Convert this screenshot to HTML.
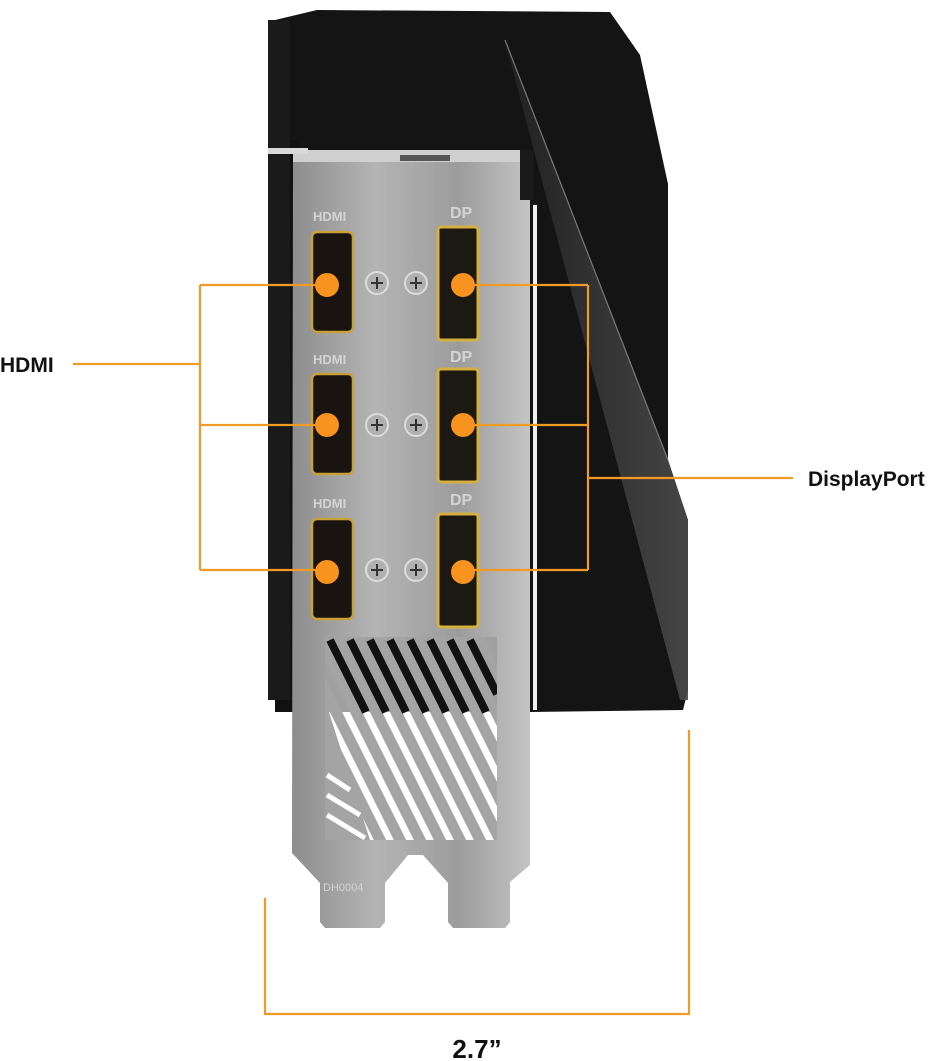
<!DOCTYPE html>
<html><head><meta charset="utf-8"><style>
html,body{margin:0;padding:0;background:#fff;width:943px;height:1061px;overflow:hidden}
svg{display:block}
text{font-family:"Liberation Sans",sans-serif}
</style></head><body>
<svg width="943" height="1061" viewBox="0 0 943 1061" xmlns="http://www.w3.org/2000/svg">
<defs>
<linearGradient id="metal" x1="0" x2="1" y1="0" y2="0">
<stop offset="0" stop-color="#8d8d8d"/><stop offset="0.35" stop-color="#b4b4b4"/><stop offset="0.7" stop-color="#9c9c9c"/><stop offset="1" stop-color="#c4c4c4"/>
</linearGradient>
<linearGradient id="band" x1="0" x2="1" y1="0" y2="0">
<stop offset="0" stop-color="#222"/><stop offset="1" stop-color="#4a4a4a"/>
</linearGradient>
<clipPath id="vent"><rect x="325" y="637" width="172" height="203"/></clipPath>
</defs>

<!-- black body -->
<polygon points="317,10 610,12 640,55 668,184 668,460 688,520 688,690 683,710 530,712 530,205 275,205 275,20" fill="#141414"/>
<polygon points="275,140 300,140 300,712 275,712" fill="#111"/>
<polygon points="268,20 290,20 290,700 268,700" fill="#1a1a1a"/>
<!-- textured band -->
<polygon points="505,40 668,460 688,520 688,700 680,700 520,98" fill="url(#band)" opacity="0.9"/>
<line x1="505" y1="40" x2="668" y2="460" stroke="#7a7a7a" stroke-width="1.2"/>
<!-- white gap line -->
<rect x="533" y="205" width="4" height="505" fill="#f0f0f0"/>

<!-- bracket -->
<polygon points="293,150 530,150 530,865 510,882 510,922 505,928 453,928 448,922 448,883 423,855 408,855 385,883 385,922 380,928 325,928 320,922 320,883 292,853" fill="url(#metal)"/>
<rect x="293" y="150" width="237" height="12" fill="#cfcfcf"/>
<rect x="268" y="148" width="40" height="6" fill="#d8d8d8"/>
<rect x="400" y="155" width="50" height="6" fill="#555"/>
<rect x="520" y="150" width="14" height="50" fill="#1a1a1a"/>

<!-- vent -->
<g clip-path="url(#vent)">
<rect x="325" y="637" width="172" height="75" fill="#a0a0a0"/>
<rect x="325" y="712" width="172" height="128" fill="#fff"/>
<g stroke="#a4a4a4" stroke-width="11">
<line x1="300" y1="600" x2="450" y2="900"/>
<line x1="320" y1="600" x2="470" y2="900"/>
<line x1="340" y1="600" x2="490" y2="900"/>
<line x1="360" y1="600" x2="510" y2="900"/>
<line x1="380" y1="600" x2="530" y2="900"/>
<line x1="400" y1="600" x2="550" y2="900"/>
<line x1="420" y1="600" x2="570" y2="900"/>
<line x1="440" y1="600" x2="590" y2="900"/>
<line x1="460" y1="600" x2="610" y2="900"/>
<line x1="280" y1="600" x2="430" y2="900"/>
<line x1="260" y1="600" x2="410" y2="900"/>
</g>
<g stroke="#111" stroke-width="8">
<line x1="330" y1="640" x2="366" y2="712"/>
<line x1="350" y1="640" x2="386" y2="712"/>
<line x1="370" y1="640" x2="406" y2="712"/>
<line x1="390" y1="640" x2="426" y2="712"/>
<line x1="410" y1="640" x2="446" y2="712"/>
<line x1="430" y1="640" x2="466" y2="712"/>
<line x1="450" y1="640" x2="486" y2="712"/>
<line x1="470" y1="640" x2="497" y2="694"/>
</g>
<polygon points="325,700 370,840 325,840" fill="#a4a4a4"/>
<g stroke="#fff" stroke-width="5">
<line x1="327" y1="775" x2="350" y2="790"/>
<line x1="327" y1="795" x2="360" y2="815"/>
<line x1="327" y1="815" x2="365" y2="838"/>
</g>
</g>
<text x="323" y="891" font-size="11" fill="#d2d2d2">DH0004</text>

<!-- labels on bracket -->
<g font-size="13" font-weight="bold" fill="#d4d4d4">
<text x="313" y="221">HDMI</text><text x="313" y="364">HDMI</text><text x="313" y="508">HDMI</text>
<text x="450" y="218" font-size="16">DP</text><text x="450" y="362" font-size="16">DP</text><text x="450" y="505" font-size="16">DP</text>
</g>

<!-- ports -->
<g>
<g id="row">
<rect x="312" y="232" width="41" height="100" rx="5" fill="#1a1410" stroke="#c9a13a" stroke-width="2.5"/>
<rect x="438" y="227" width="40" height="113" rx="3" fill="#1c1812" stroke="#d4b040" stroke-width="3"/>
<circle cx="377" cy="283" r="11" fill="#b0b0b0" stroke="#dcdcdc" stroke-width="2"/>
<circle cx="416" cy="283" r="11" fill="#b0b0b0" stroke="#dcdcdc" stroke-width="2"/>
<path d="M371 283h12M377 277v12M410 283h12M416 277v12" stroke="#333" stroke-width="2"/>
</g>
<use href="#row" y="142"/>
<use href="#row" y="287"/>
</g>

<!-- orange callouts -->
<g stroke="#f09a28" stroke-width="2.2" fill="none">
<path d="M200,285 H326 M200,425 H326 M200,570 H326 M200,285 V570 M73,364 H200"/>
<path d="M588,285 H462 M588,425 H462 M588,570 H462 M588,285 V570 M588,478 H793"/>
<path d="M265,898 V1014 H689 V730"/>
</g>
<g fill="#f7931e">
<circle cx="327" cy="285" r="12"/><circle cx="327" cy="425" r="12"/><circle cx="327" cy="572" r="12"/>
<circle cx="463" cy="285" r="12"/><circle cx="463" cy="425" r="12"/><circle cx="463" cy="572" r="12"/>
</g>

<text x="0" y="372" font-size="21" font-weight="bold" fill="#111">HDMI</text>
<text x="808" y="486" font-size="21" font-weight="bold" fill="#111">DisplayPort</text>
<text x="477" y="1058" font-size="26" font-weight="bold" fill="#111" text-anchor="middle">2.7”</text>
</svg>
</body></html>
